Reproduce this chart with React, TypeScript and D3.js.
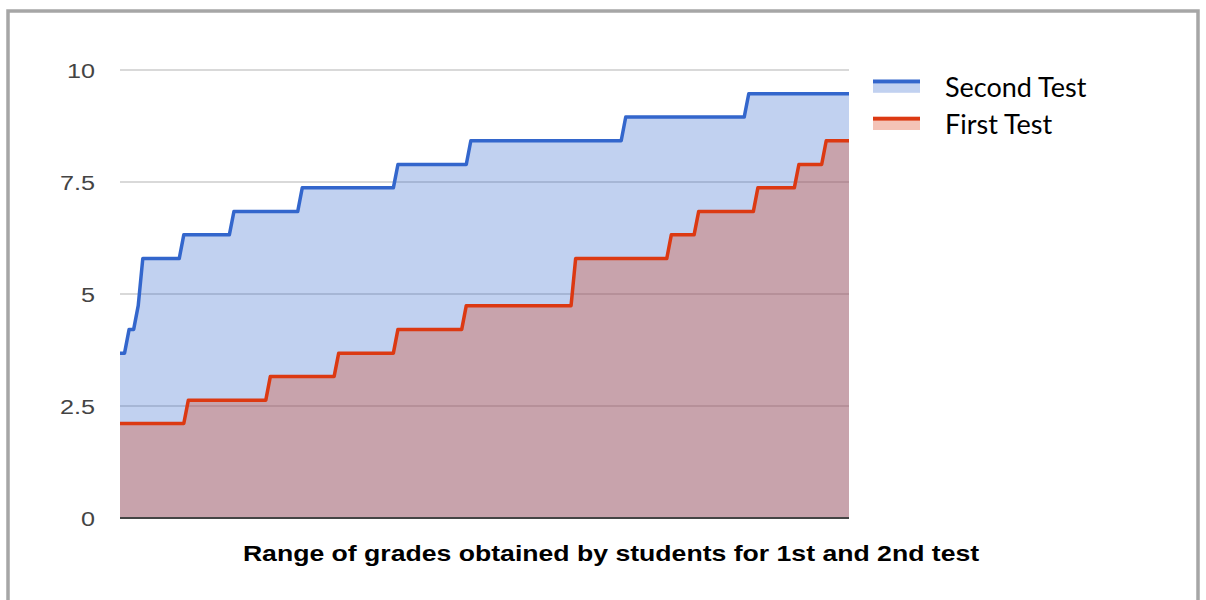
import React from "react";
import * as d3 from "d3";

// Grade levels (out of 10) and how many students (sorted) sit on each level
const secondTestLevels = [3.68, 4.21, 4.74, 5.79, 6.32, 6.84, 7.37, 7.89, 8.42, 8.95, 9.47];
const secondTestCounts = [2, 2, 1, 9, 11, 15, 21, 16, 34, 27, 23];
const firstTestLevels = [2.11, 2.63, 3.16, 3.68, 4.21, 4.74, 5.79, 6.32, 6.84, 7.37, 7.89, 8.42];
const firstTestCounts = [15, 18, 15, 13, 15, 24, 21, 6, 13, 9, 6, 6];

const yTicks = [0, 2.5, 5, 7.5, 10];
const yTickLabels = ["0", "2.5", "5", "7.5", "10"];
const seriesNames = ["Second Test", "First Test"];
const title = "Range of grades obtained by students for 1st and 2nd test";

function expand(levels: number[], counts: number[]): number[] {
  const out: number[] = [];
  levels.forEach((l, i) => {
    for (let k = 0; k < counts[i]; k++) out.push(l);
  });
  return out;
}

export default function App() {
  const second = expand(secondTestLevels, secondTestCounts);
  const first = expand(firstTestLevels, firstTestCounts);
  const n = Math.max(second.length, first.length);

  const x = d3.scaleLinear().domain([0, n - 1]).range([120, 849]);
  const y = d3.scaleLinear().domain([0, 10]).range([518, 70]);

  const area = d3
    .area<number>()
    .x((_, i) => x(i))
    .y0(y(0))
    .y1((d) => y(d));
  const line = d3
    .line<number>()
    .x((_, i) => x(i))
    .y((d) => y(d));

  const blue = "#3366cc";
  const red = "#dc3912";

  const series = [
    { name: seriesNames[0], data: second, color: blue },
    { name: seriesNames[1], data: first, color: red },
  ];

  return (
    <svg
      width={1206}
      height={600}
      style={{ position: "absolute", left: 0, top: 0, display: "block", background: "#fff" }}
    >
      <rect x={0} y={0} width={1206} height={600} fill="#fff" />
      <rect x={8} y={11} width={1190} height={620} fill="none" stroke="#a6a6a6" strokeWidth={3.5} />

      {/* gridlines */}
      {yTicks.slice(1).map((t) => (
        <line key={t} x1={120} x2={849} y1={y(t)} y2={y(t)} stroke="#cccccc" strokeWidth={1.3} />
      ))}

      {/* areas */}
      {series.map((s) => (
        <path key={s.name} d={area(s.data) || ""} fill={s.color} fillOpacity={0.3} stroke="none" />
      ))}
      {/* lines */}
      {series.map((s) => (
        <path
          key={s.name + "l"}
          d={line(s.data) || ""}
          fill="none"
          stroke={s.color}
          strokeWidth={3.5}
          strokeLinejoin="round"
        />
      ))}

      {/* baseline */}
      <line x1={120} x2={849} y1={y(0)} y2={y(0)} stroke="#444" strokeWidth={2} />

      {/* y tick labels */}
      {yTicks.map((t, i) => (
        <text
          key={t}
          transform={`translate(95,${y(t) + 7.5}) scale(1.2,1)`}
          textAnchor="end"
          fontFamily="'Liberation Sans', Arial, sans-serif"
          fontSize={21}
          fill="#444"
        >
          {yTickLabels[i]}
        </text>
      ))}

      {/* legend */}
      {series.map((s, i) => {
        const top = 79.5 + i * 37.2;
        return (
          <g key={s.name + "lg"}>
            <rect x={873} y={top + 4} width={47} height={9.3} fill={s.color} fillOpacity={0.3} />
            <rect x={873} y={top} width={47} height={4} fill={s.color} />
            <text
              x={945}
              y={97 + i * 37}
              fontFamily="Lato, 'Open Sans', sans-serif"
              fontSize={27}
              fill="#000"
            >
              {s.name}
            </text>
          </g>
        );
      })}

      {/* title */}
      <text
        transform="translate(611,561) scale(1.21,1)"
        textAnchor="middle"
        fontFamily="'Liberation Sans', Arial, sans-serif"
        fontWeight="bold"
        fontSize={22}
        fill="#000"
      >
        {title}
      </text>
    </svg>
  );
}
